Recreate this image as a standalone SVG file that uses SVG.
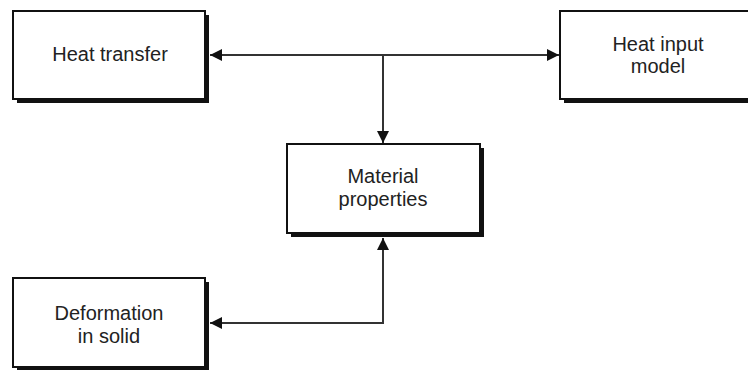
<svg xmlns="http://www.w3.org/2000/svg" width="748" height="370" viewBox="0 0 748 370">
<style>
.box{fill:#fff;stroke:#111;stroke-width:2}
.sh{fill:#111}
.t{font-family:"Liberation Sans",Arial,sans-serif;font-size:20px;fill:#222;text-anchor:middle}
.c{fill:none;stroke:#333;stroke-width:2}
</style>
<defs>
<marker id="ah" viewBox="0 0 10 10" refX="10" refY="5" markerWidth="12" markerHeight="12" markerUnits="userSpaceOnUse" orient="auto-start-reverse">
<path d="M0,0 L10,5 L0,10 Z" fill="#111"/>
</marker>
</defs>
<rect width="748" height="370" fill="#fff"/>
<g id="heat-transfer">
<rect class="sh" x="17" y="15" width="192" height="88"/>
<rect class="box" x="13" y="11" width="192" height="88"/>
<text class="t" x="110" y="61">Heat transfer</text>
</g>
<g id="heat-input-model">
<rect class="sh" x="564" y="15" width="200" height="88"/>
<rect class="box" x="560" y="11" width="200" height="88"/>
<text class="t" x="658" y="51">Heat input</text>
<text class="t" x="658" y="73">model</text>
</g>
<g id="material-properties">
<rect class="sh" x="291" y="148" width="193" height="89"/>
<rect class="box" x="287" y="144" width="193" height="89"/>
<text class="t" x="383" y="183">Material</text>
<text class="t" x="383" y="206">properties</text>
</g>
<g id="deformation-in-solid">
<rect class="sh" x="17" y="282" width="192" height="89"/>
<rect class="box" x="13" y="278" width="192" height="89"/>
<text class="t" x="109" y="320">Deformation</text>
<text class="t" x="109" y="343">in solid</text>
</g>
<g id="connectors">
<path class="c" d="M210,55 L559,55" marker-start="url(#ah)" marker-end="url(#ah)"/>
<path class="c" d="M383,55 L383,143" marker-end="url(#ah)"/>
<path class="c" d="M210,323 L383,323 L383,238" marker-start="url(#ah)" marker-end="url(#ah)"/>
</g>
</svg>
